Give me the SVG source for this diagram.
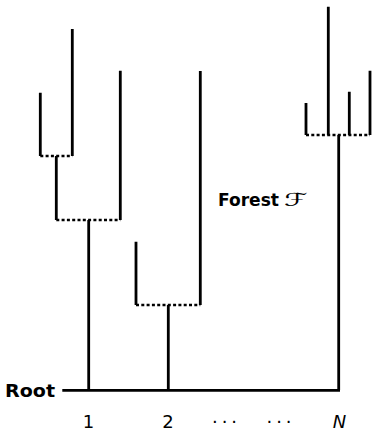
<svg xmlns="http://www.w3.org/2000/svg" width="373" height="431" viewBox="0 0 373 431">
<style>
.s{stroke:#000;stroke-width:2.8;fill:none;stroke-linecap:butt}
.d{stroke:#000;stroke-width:2.6;fill:none;stroke-dasharray:3 2.3}
.b{font-family:"DejaVu Sans","Liberation Sans",sans-serif;font-weight:bold;font-size:17.5px;fill:#000}
.l{font-family:"DejaVu Sans","Liberation Sans",sans-serif;font-size:18px;fill:#000}
</style>
<rect width="373" height="431" fill="#fff"/>
<g id="connectors">
<path class="s" d="M40.3 92.7V156M72.3 29V156M56.3 156V220M120.3 70.7V220M88.7 220V390"/>
<path class="d" d="M40.3 156H72.3M56.3 220H120.3"/>
<path class="s" d="M136 241.7V305M200.3 71V305M168.3 305V390"/>
<path class="d" d="M136 305H200.3"/>
<path class="s" d="M306 103V135M328.3 6.7V135M349.3 91.7V135M370 70.7V135M338.7 135V390"/>
<path class="d" d="M306 135H370"/>
<path class="s" d="M62.3 390.3H340"/>
</g>
<g id="root-label"><text class="b" x="5" y="396.7" textLength="50" lengthAdjust="spacingAndGlyphs">Root</text></g>
<g id="forest-label"><text class="b" x="218" y="205.7" textLength="61" lengthAdjust="spacingAndGlyphs">Forest</text><text class="l" x="284" y="205.7" font-style="italic" textLength="24" lengthAdjust="spacingAndGlyphs">ℱ</text></g>
<g id="labels">
<text class="l" x="88.5" y="428" text-anchor="middle">1</text>
<text class="l" x="168" y="428" text-anchor="middle">2</text>
<text class="l" x="212" y="428" textLength="25" lengthAdjust="spacing">···</text>
<text class="l" x="266.5" y="428" textLength="25" lengthAdjust="spacing">···</text>
<text class="l" x="339.5" y="428" text-anchor="middle" font-style="italic">N</text>
</g>
</svg>
